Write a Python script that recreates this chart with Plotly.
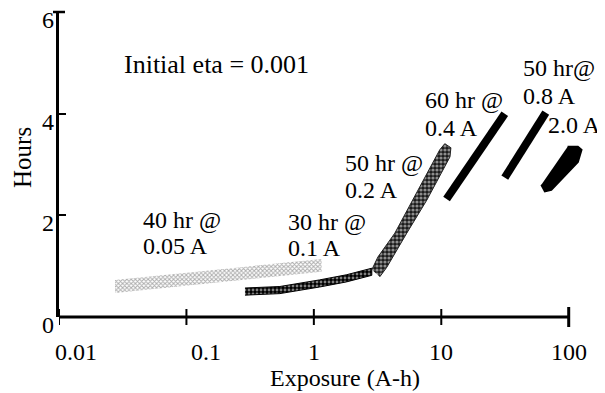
import numpy as np
import plotly.graph_objects as go

# ---------------- data ----------------
x_tick_vals = [0.01, 0.1, 1, 10, 100]
x_tick_text = ["0.01", "0.1", "1", "10", "100"]
y_tick_vals = [0, 2, 4, 6]
y_tick_text = ["0", "2", "4", "6"]

# 40 hr @ 0.05 A  (light stippled range band)
band_40hr_x = [0.0275, 1.15]
band_40hr_lo = [0.47, 0.89]
band_40hr_hi = [0.73, 1.14]

# 30 hr @ 0.1 A  (dark beaded range band)
band_30hr_x = [0.288, 0.541, 1.11, 1.80, 2.85]
band_30hr_lo = [0.43, 0.46, 0.59, 0.69, 0.82]
band_30hr_hi = [0.57, 0.60, 0.73, 0.83, 0.96]

# 50 hr @ 0.2 A  (checkered band outline)
band_50hr_x = [2.85, 3.18, 4.32, 6.42, 9.73, 10.65, 11.9, 11.7, 7.70, 5.36, 3.74, 3.29]
band_50hr_y = [0.93, 1.18, 1.65, 2.44, 3.29, 3.41, 3.33, 3.15, 2.30, 1.65, 0.98, 0.79]

# 60 hr @ 0.4 A  (black line)
line_60hr_x = [11.0, 31.5]
line_60hr_y = [2.32, 4.00]

# 50 hr @ 0.8 A  (black line)
line_50hr_x = [31.5, 66.1]
line_50hr_y = [2.74, 4.02]

# 2.0 A  (black blob outline)
blob_2A_x = [61, 65, 73, 118, 126, 118, 98]
blob_2A_y = [2.60, 2.47, 2.50, 3.05, 3.29, 3.35, 3.35]

# ---------------- styling ----------------
FONT = "Liberation Serif, Times New Roman, serif"
FS = 24
OFF = 8                      # page body margin of the rendered html
L, R, T, B = 51, 21, 4, 76
W, H = 597, 385
PW, PH = W - L - R, H - T - B

fig = go.Figure()

# 40 hr band
fig.add_trace(go.Scatter(
    x=band_40hr_x + band_40hr_x[::-1], y=band_40hr_hi + band_40hr_lo[::-1],
    mode="lines", fill="toself", line=dict(width=0, color="#888"),
    fillcolor="white",
    fillpattern=dict(shape="x", size=3, solidity=0.55, fgcolor="#5a5a5a", bgcolor="white"),
    hoverinfo="skip", showlegend=False))

# 30 hr band
fig.add_trace(go.Scatter(
    x=band_30hr_x + band_30hr_x[::-1], y=band_30hr_hi + band_30hr_lo[::-1],
    mode="lines", fill="toself", line=dict(width=1, color="black"),
    fillcolor="black",
    fillpattern=dict(shape=".", size=4, solidity=0.4, fgcolor="white", bgcolor="black"),
    hoverinfo="skip", showlegend=False))

# 50 hr band
fig.add_trace(go.Scatter(
    x=band_50hr_x, y=band_50hr_y,
    mode="lines", fill="toself", line=dict(width=1, color="#222"),
    fillcolor="black",
    fillpattern=dict(shape=".", size=4, solidity=0.5, fgcolor="white", bgcolor="#1a1a1a"),
    hoverinfo="skip", showlegend=False))

# 60 hr and 50 hr black lines
for lx, ly in [(line_60hr_x, line_60hr_y), (line_50hr_x, line_50hr_y)]:
    fig.add_trace(go.Scatter(x=lx, y=ly, mode="lines",
                             line=dict(width=8, color="black"),
                             hoverinfo="skip", showlegend=False))

# 2.0 A blob
fig.add_trace(go.Scatter(
    x=blob_2A_x, y=blob_2A_y, mode="lines", fill="toself",
    line=dict(width=2, color="black"), fillcolor="black",
    hoverinfo="skip", showlegend=False))

shapes = []
# x axis line from first to last tick
shapes.append(dict(type="line", xref="x", yref="paper",
                   x0=x_tick_vals[0], x1=x_tick_vals[-1], y0=0, y1=0,
                   line=dict(color="black", width=3)))
# crossing tick marks on x axis
for i, tv in enumerate(x_tick_vals):
    last = i == len(x_tick_vals) - 1
    half = 10 if last else 8
    shapes.append(dict(type="line", xref="x", yref="paper",
                       x0=tv, x1=tv, y0=-half / PH, y1=half / PH,
                       line=dict(color="black", width=3 if last else 2)))
# top bar of y axis
shapes.append(dict(type="line", xref="paper", yref="paper",
                   x0=-6 / PW, x1=6 / PW, y0=1, y1=1,
                   line=dict(color="black", width=2.5)))

ann = []
tick_font = dict(family=FONT, size=FS, color="black")
# x tick labels
x_label_shift = [17, 20, 0, 0, 0]
for tv, tt, sh in zip(x_tick_vals, x_tick_text, x_label_shift):
    ann.append(dict(x=np.log10(tv), y=-35 / PH, xref="x", yref="paper",
                    text=tt, showarrow=False, xanchor="center", yanchor="middle",
                    xshift=sh, font=tick_font))
# y tick labels (sit a little below their ticks, as in the reference)
for tv, tt in zip(y_tick_vals, y_tick_text):
    ann.append(dict(x=-3 / PW, y=tv, xref="paper", yref="y", text=tt,
                    showarrow=False, xanchor="right", yanchor="middle",
                    yshift=-8, font=tick_font))


def px2paper(px, py):
    return (px - OFF - L) / PW, (H - B - (py - OFF)) / PH


def label(text, px, py, size=FS):
    xp, yp = px2paper(px, py)
    ann.append(dict(x=xp, y=yp, xref="paper", yref="paper", text=text,
                    showarrow=False, xanchor="left", yanchor="middle",
                    font=dict(family=FONT, size=size, color="black")))


label("Initial eta = 0.001", 122, 65, 26)
label("40 hr @", 141, 220)
label("0.05 A", 141, 246)
label("30 hr @", 286, 222)
label("0.1 A", 286, 248)
label("50 hr @", 343, 163)
label("0.2 A", 343, 190)
label("60 hr @", 423, 100)
label("0.4 A", 423, 128)
label("50 hr@", 521, 68)
label("0.8 A", 521, 96)
label("2.0 A", 546, 125)

# axis titles
xp, yp = px2paper(345, 378)
ann.append(dict(x=xp, y=yp, xref="paper", yref="paper", text="Exposure (A-h)",
                showarrow=False, xanchor="center", yanchor="middle",
                font=dict(family=FONT, size=FS, color="black")))
xp, yp = px2paper(22, 158)
ann.append(dict(x=xp, y=yp, xref="paper", yref="paper", text="Hours",
                showarrow=False, xanchor="center", yanchor="middle", textangle=-90,
                font=dict(family=FONT, size=25, color="black")))

fig.update_layout(
    width=W, height=H,
    margin=dict(l=L, r=R, t=T, b=B),
    paper_bgcolor="white", plot_bgcolor="white",
    shapes=shapes, annotations=ann,
    xaxis=dict(type="log", range=[-2, 2.12], showgrid=False, zeroline=False,
               showline=False, showticklabels=False, ticks=""),
    yaxis=dict(range=[0, 6], tickvals=y_tick_vals, showgrid=False, zeroline=False,
               showline=True, linewidth=3, linecolor="black",
               ticks="inside", ticklen=7, tickwidth=2, tickcolor="black",
               showticklabels=False),
)

fig.write_html("out.html")
